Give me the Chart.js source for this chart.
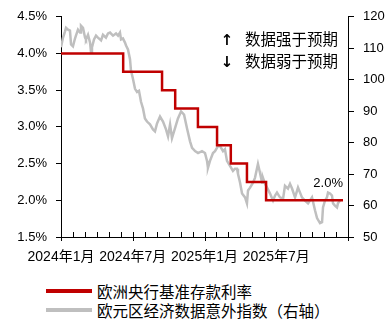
<!DOCTYPE html>
<html>
<head>
<meta charset="utf-8">
<script src="https://cdn.jsdelivr.net/npm/chart.js@4.4.1/dist/chart.umd.min.js"></script>
<style>
body { margin: 0; background: #fff; }
#wrap { position: relative; width: 390px; height: 322px; }
#c { position: absolute; left: 0; top: 0; }
.legend { position: absolute; left: 46px; top: 281px; font: 15.5px 'Liberation Sans', 'Noto Sans CJK SC', sans-serif; color: #000; }
.item { display: flex; align-items: center; height: 19px; white-space: nowrap; }
.swatch { width: 46px; height: 4px; margin-right: 5px; }
</style>
</head>
<body>
<div id="wrap">
  <canvas id="c" width="390" height="270"></canvas>
  <div class="legend">
    <div class="item"><span class="swatch" style="background:#c00000"></span>欧洲央行基准存款利率</div>
    <div class="item"><span class="swatch" style="background:#bfbfbf"></span>欧元区经济数据意外指数（右轴）</div>
  </div>
</div>
<script>
// months counted from 2024年1月 (0) to 2026年1月 (24)
const tickMonths = [0, 6, 12, 18];
const tickLabels = ['2024年1月', '2024年7月', '2025年1月', '2025年7月'];

// ECB deposit rate, value from each change date
const rateMonth = [0, 5.2, 8.45, 9.55, 11.45, 13.05, 14.2, 15.55, 17.15, 23.58];
const rateValue = [4.0, 3.75, 3.5, 3.25, 3.0, 2.75, 2.5, 2.25, 2.0, 2.0];

// euro area economic surprise index (right axis)
const surpriseMonth = [0.00, 0.17, 0.33, 0.42, 0.59, 0.75, 0.84, 1.00, 1.17, 1.25, 1.42, 1.59, 1.67, 1.84, 2.01, 2.09, 2.26, 2.43, 2.51, 2.59,
  2.76, 2.93, 3.09, 3.35, 3.51, 3.76, 3.93, 4.10, 4.35, 4.60, 4.77, 4.93, 5.02, 5.18, 5.35, 5.44, 5.60, 5.77, 5.85, 6.02,
  6.19, 6.36, 6.52, 6.69, 6.86, 7.02, 7.19, 7.44, 7.69, 7.86, 8.03, 8.28, 8.53, 8.78, 8.95, 9.12, 9.28, 9.53, 9.78, 10.04,
  10.29, 10.54, 10.79, 10.96, 11.21, 11.46, 11.79, 12.04, 12.21, 12.29, 12.46, 12.71, 12.88, 13.13, 13.30, 13.55, 13.71, 13.88, 14.13, 14.38,
  14.55, 14.72, 14.80, 14.97, 15.14, 15.39, 15.55, 15.64, 15.81, 16.06, 16.22, 16.47, 16.64, 16.81, 16.89, 17.06, 17.23, 17.48, 17.73, 17.90,
  18.06, 18.31, 18.57, 18.73, 18.98, 19.15, 19.32, 19.57, 19.82, 19.99, 20.15, 20.40, 20.66, 20.82, 20.99, 21.24, 21.41, 21.66, 21.83, 21.91,
  22.08, 22.24, 22.33, 22.50, 22.66, 22.75, 22.91, 23.08, 23.16, 23.33];
const surpriseValue = [110.3, 113.4, 115.3, 116.5, 115.9, 115.6, 111.2, 110.6, 113.1, 114.0, 115.9, 115.0, 117.2, 116.5, 113.4, 112.8, 114.3, 111.8, 108.7, 110.3,
  112.8, 114.0, 113.4, 112.5, 114.3, 113.4, 114.7, 115.0, 114.0, 114.7, 114.0, 115.0, 112.8, 113.1, 111.8, 110.9, 109.6, 106.5, 103.0, 100.2,
  97.1, 96.1, 96.5, 93.0, 90.8, 87.7, 86.7, 85.8, 84.2, 83.6, 86.1, 88.3, 86.7, 84.2, 82.0, 85.8, 81.4, 84.5, 87.7, 89.9,
  88.9, 84.5, 80.4, 78.3, 77.3, 76.7, 77.3, 76.7, 74.2, 72.0, 74.2, 76.7, 77.3, 78.9, 78.9, 77.3, 77.9, 74.2, 72.6, 71.0,
  71.7, 71.7, 70.1, 67.3, 63.8, 62.6, 60.7, 64.8, 65.7, 67.3, 68.8, 73.2, 70.4, 67.3, 68.8, 66.9, 65.7, 63.8, 61.6, 63.2,
  64.1, 62.6, 62.2, 66.3, 65.4, 66.9, 65.4, 62.6, 65.7, 64.1, 62.6, 61.6, 60.7, 61.6, 62.6, 58.5, 56.0, 54.4, 54.7, 59.4,
  61.6, 62.6, 64.1, 63.8, 63.2, 60.7, 60.0, 59.4, 60.7, 61.6];

const FONT = "'Liberation Sans', 'Noto Sans CJK SC', sans-serif";

// short monthly tick marks pointing into the plot, longer ones at the labels
const monthTicks = {
  id: 'monthTicks',
  afterDraw(chart) {
    const ctx = chart.ctx, x = chart.scales.x, bottom = chart.chartArea.bottom;
    ctx.save();
    ctx.strokeStyle = '#000';
    ctx.lineWidth = 1;
    for (let m = 0; m <= 24; m++) {
      const px = Math.round(x.getPixelForValue(m)) + 0.5;
      const major = m % 6 === 0;
      ctx.beginPath();
      ctx.moveTo(px, bottom - 5);
      ctx.lineTo(px, major ? bottom + 4 : bottom);
      ctx.stroke();
    }
    ctx.restore();
  }
};

const notes = {
  id: 'notes',
  afterDatasetsDraw(chart) {
    const ctx = chart.ctx, area = chart.chartArea;
    const x = chart.scales.x, y = chart.scales.y;
    ctx.save();
    ctx.fillStyle = '#000';
    ctx.textBaseline = 'middle';
    ctx.font = "bold 15px 'DejaVu Sans'";
    ctx.textAlign = 'center';
    ctx.fillText('↑', area.right - 121, area.top + 24);
    ctx.fillText('↓', area.right - 121, area.top + 46);
    ctx.font = '15.5px ' + FONT;
    ctx.textAlign = 'left';
    ctx.fillText('数据强于预期', area.right - 103, area.top + 24);
    ctx.fillText('数据弱于预期', area.right - 103, area.top + 46);
    ctx.font = '13px ' + FONT;
    ctx.textAlign = 'right';
    const last = rateMonth.length - 1;
    ctx.fillText(rateValue[last].toFixed(1) + '%', x.getPixelForValue(rateMonth[last]), y.getPixelForValue(rateValue[last]) - 17);
    ctx.restore();
  }
};

new Chart(document.getElementById('c'), {
  type: 'line',
  data: {
    datasets: [{
      label: '欧洲央行基准存款利率',
      data: rateMonth.map((m, i) => ({ x: m, y: rateValue[i] })),
      borderColor: '#c00000',
      borderWidth: 2.5,
      stepped: 'before',
      pointRadius: 0,
      yAxisID: 'y'
    }, {
      label: '欧元区经济数据意外指数（右轴）',
      data: surpriseMonth.map((m, i) => ({ x: m, y: surpriseValue[i] })),
      borderColor: '#bfbfbf',
      borderWidth: 2.5,
      pointRadius: 0,
      yAxisID: 'y1'
    }]
  },
  options: {
    responsive: false,
    animation: false,
    layout: { padding: { top: 14, left: 0, right: 0, bottom: 0 } },
    plugins: {
      legend: { display: false },
      tooltip: { enabled: false }
    },
    scales: {
      x: {
        type: 'linear',
        min: 0,
        max: 24,
        afterFit(s) { s.height = 33; },
        border: { color: '#000', width: 1 },
        grid: { display: false, drawTicks: false },
        ticks: {
          stepSize: 1,
          autoSkip: false,
          maxRotation: 0,
          padding: 12,
          color: '#000',
          font: { family: FONT, size: 14 },
          callback: v => {
            const i = tickMonths.indexOf(v);
            return i >= 0 ? tickLabels[i] : '';
          }
        }
      },
      y: {
        position: 'left',
        min: 1.5,
        max: 4.5,
        afterFit(s) { s.width = 61; },
        border: { color: '#000', width: 1 },
        grid: { drawOnChartArea: false, tickLength: 5, color: '#000' },
        ticks: {
          stepSize: 0.5,
          padding: 9,
          color: '#000',
          font: { family: FONT, size: 13 },
          callback: v => v.toFixed(1) + '%'
        }
      },
      y1: {
        position: 'right',
        min: 50,
        max: 120,
        afterFit(s) { s.width = 42; },
        border: { color: '#000', width: 1 },
        grid: { drawOnChartArea: false, tickLength: 6, color: '#000' },
        ticks: {
          stepSize: 10,
          padding: 9,
          color: '#000',
          font: { family: FONT, size: 13 }
        }
      }
    }
  },
  plugins: [monthTicks, notes]
});
</script>
</body>
</html>
